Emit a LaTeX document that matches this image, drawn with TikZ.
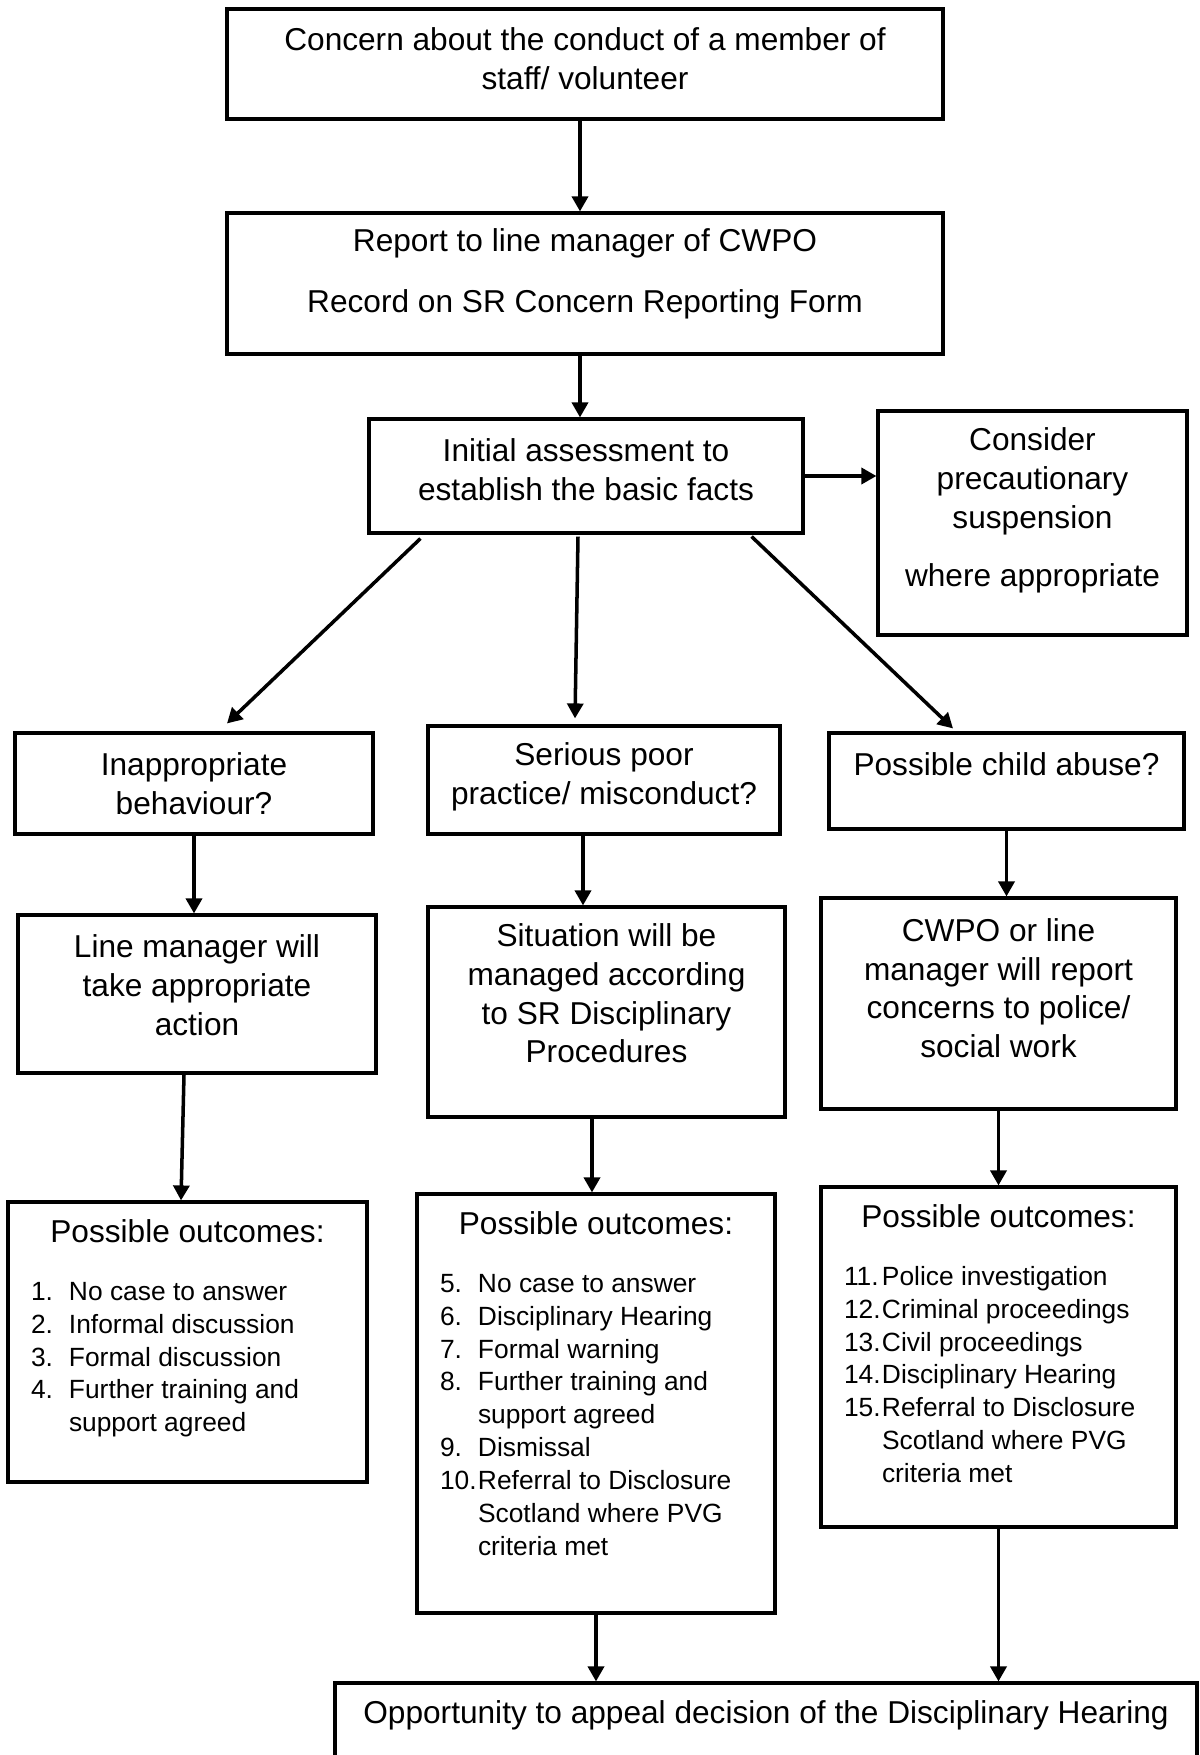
\documentclass[tikz,border=0pt]{standalone}
\usepackage{fontspec}
\setmainfont{Liberation Sans}
\usepackage{tikz}
\usetikzlibrary{
  arrows.meta,
  calc
}
\newlength{\numw}
\setlength{\numw}{0.76cm}
\newcommand{\boxfont}{\fontsize{18}{22}\selectfont}
\newcommand{\listfont}{\fontsize{15}{18.7}\selectfont}
\newcommand{\dn}[1]{\rule[-#1]{0pt}{#1}}
\newcommand{\outitem}[2]{\noindent\hangindent=\numw\hangafter=1%
  \makebox[\numw][l]{#1.}#2\par}
\newcommand{\outpanel}[3]{%
  \parbox[c][#1][t]{#2}{\vspace*{0.36cm}%
    {\centering\boxfont Possible outcomes:\par}%
    \listfont\vspace{14pt}\raggedright\leftskip=0.46cm #3}}

\begin{document}
\begin{tikzpicture}[
  box/.style={
    draw, line width=1.8pt,
    align=center, font=\boxfont,
    inner sep=0pt},
  outbox/.style={
    draw, line width=1.8pt,
    inner sep=0pt},
  arrow/.style={
    -{Triangle[length=0.3cm, width=0.32cm]},
    line width=2pt}
]
\useasboundingbox (0,0) rectangle (24,-35.1);

\node[box, minimum width=14.32cm, minimum height=2.2cm]
  (concern) at (11.70,-1.28)
  {Concern about the conduct of a member of\\
  staff/ volunteer\dn{0.23cm}};
\node[box, minimum width=14.32cm, minimum height=2.82cm]
  (report) at (11.70,-5.67)
  {Report to line manager of CWPO\\[0.45cm]
  Record on SR Concern Reporting Form\dn{0.53cm}};
\node[box, minimum width=8.68cm, minimum height=2.28cm]
  (initial) at (11.72,-9.52)
  {Initial assessment to\\
  establish the basic facts\dn{0.26cm}};
\node[box, minimum width=6.18cm, minimum height=4.48cm]
  (consider) at (20.65,-10.46)
  {Consider\\precautionary\\suspension\\[0.4cm]
  where appropriate\dn{0.63cm}};

\node[box, minimum width=7.16cm, minimum height=2.02cm]
  (inapp) at (3.88,-15.67)
  {Inappropriate\\behaviour?};
\node[box, minimum width=7.04cm, minimum height=2.16cm]
  (serious) at (12.08,-15.60)
  {Serious poor\\practice/ misconduct?\dn{0.27cm}};
\node[box, minimum width=7.10cm, minimum height=1.92cm]
  (child) at (20.13,-15.62)
  {Possible child abuse?\dn{0.68cm}};

\node[box, minimum width=7.16cm, minimum height=3.16cm]
  (linemgr) at (3.94,-19.88)
  {Line manager will\\take appropriate\\action\dn{0.36cm}};
\node[box, minimum width=7.14cm, minimum height=4.2cm]
  (situation) at (12.13,-20.24)
  {Situation will be\\managed according\\
  to SR Disciplinary\\Procedures\dn{0.75cm}};
\node[box, minimum width=7.10cm, minimum height=4.22cm]
  (cwpo) at (19.97,-20.07)
  {CWPO or line\\manager will report\\
  concerns to police/\\social work\dn{0.62cm}};

\node[outbox] (out1) at (3.75,-26.84)
  {\outpanel{5.6cm}{7.18cm}{%
  \outitem{1}{No case to answer}
  \outitem{2}{Informal discussion}
  \outitem{3}{Formal discussion}
  \outitem{4}{Further training and\newline support agreed}}};
\node[outbox] (out2) at (11.92,-28.07)
  {\outpanel{8.38cm}{7.16cm}{%
  \outitem{5}{No case to answer}
  \outitem{6}{Disciplinary Hearing}
  \outitem{7}{Formal warning}
  \outitem{8}{Further training and\newline support agreed}
  \outitem{9}{Dismissal}
  \outitem{10}{Referral to Disclosure\newline Scotland where PVG\newline criteria met}}};
\node[outbox] (out3) at (19.97,-27.14)
  {\outpanel{6.8cm}{7.10cm}{%
  \outitem{11}{Police investigation}
  \outitem{12}{Criminal proceedings}
  \outitem{13}{Civil proceedings}
  \outitem{14}{Disciplinary Hearing}
  \outitem{15}{Referral to Disclosure\newline Scotland where PVG\newline criteria met}}};

\node[box, minimum width=17.24cm, minimum height=1.8cm]
  (appeal) at (15.32,-34.56)
  {Opportunity to appeal decision of the Disciplinary Hearing\dn{0.65cm}};

\draw[arrow] ([xshift=-0.1cm]concern.south)
  -- ([xshift=-0.1cm]concern.south |- report.north);
\draw[arrow] ([xshift=-0.1cm]report.south)
  -- ([xshift=-0.1cm]report.south |- initial.north);
\draw[arrow] (initial.east) -- (initial.east -| consider.west);

\draw[arrow] ([xshift=1.06cm,yshift=-0.08cm]initial.south west)
  -- ([xshift=0.66cm,yshift=0.16cm]inapp.north);
\draw[arrow] ([xshift=-0.16cm,yshift=-0.04cm]initial.south)
  -- ([xshift=-0.58cm,yshift=0.12cm]serious.north);
\draw[arrow] ([xshift=-1.06cm,yshift=-0.04cm]initial.south east)
  -- ([xshift=-1.07cm,yshift=0.06cm]child.north);

\draw[arrow] (inapp.south) -- (inapp.south |- linemgr.north);
\draw[arrow] ([xshift=-0.42cm]serious.south)
  -- ([xshift=-0.42cm]serious.south |- situation.north);
\draw[arrow] (child.south) -- (child.south |- cwpo.north);

\draw[arrow] ([xshift=-0.26cm]linemgr.south)
  -- ([xshift=-0.13cm]out1.north);
\draw[arrow] ([xshift=-0.29cm]situation.south)
  -- ([xshift=-0.29cm]situation.south |- out2.north);
\draw[arrow] (cwpo.south) -- (cwpo.south |- out3.north);

\draw[arrow] (out2.south) -- (out2.south |- appeal.north);
\draw[arrow] (out3.south) -- (out3.south |- appeal.north);

\end{tikzpicture}
\end{document}
